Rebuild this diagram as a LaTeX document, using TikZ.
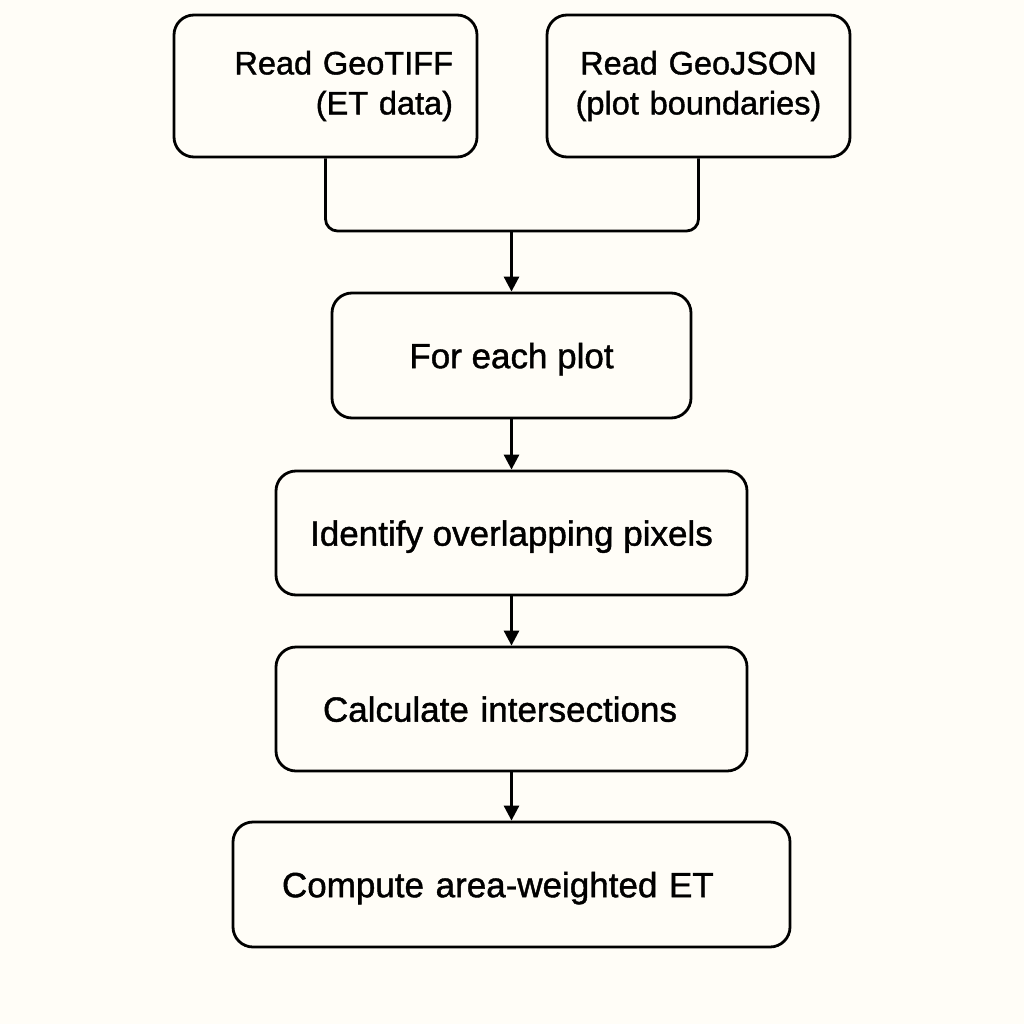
\documentclass[tikz,border=0pt]{standalone}
\usepackage{fontspec}
\setmainfont[FakeBold=1.2]{Liberation Sans}
\usetikzlibrary{arrows.meta}
\definecolor{paper}{HTML}{FFFDF7}
\begin{document}
\begin{tikzpicture}[x=1pt,y=-1pt,
    boxbase/.style={draw,line width=2.8pt,rounded corners=20pt,inner ysep=0pt},
    stepbox/.style={boxbase,text depth=0pt,font=\fontsize{35}{40}\selectfont},
    readbox/.style={boxbase,minimum height=142pt,font=\fontsize{32.5}{40}\selectfont},
    flow/.style={line width=2.8pt,-{Triangle[length=15pt,width=15pt]}}]
    \fill[paper] (0,0) rectangle (1024,1024); %fondo

    % lecturas
    \node[readbox,inner xsep=24pt,text width=255pt,align=right]
        (geotiff) at (325.5,86) {Read GeoTIFF\\(ET data)};
    \node[readbox,inner xsep=10pt,text width=283pt,align=center]
        (geojson) at (698.5,86) {Read GeoJSON\\(plot boundaries)};
    \coordinate (join) at (511.5,231);
    \draw[line width=2.8pt,rounded corners=12pt] (geotiff.south) |- (join) -| (geojson.south);

    % pasos
    \node[stepbox,minimum width=359pt,minimum height=125pt] (plot) at (511.5,355.5) {For each plot};
    \node[stepbox,minimum width=471pt,minimum height=124pt] (pixels) at (511.5,533) {Identify overlapping pixels};
    \node[stepbox,minimum height=124pt,inner xsep=47pt,text width=377pt,align=left]
        (inter) at (511.5,709) {Calculate intersections};
    \node[stepbox,minimum height=125pt,inner xsep=49pt,text width=459pt,align=left]
        (area) at (511.5,884.5) {Compute area-weighted ET};

    \draw[flow] (join) -- (plot);
    \draw[flow] (plot) -- (pixels);
    \draw[flow] (pixels) -- (inter);
    \draw[flow] (inter) -- (area);
\end{tikzpicture}
\end{document}
